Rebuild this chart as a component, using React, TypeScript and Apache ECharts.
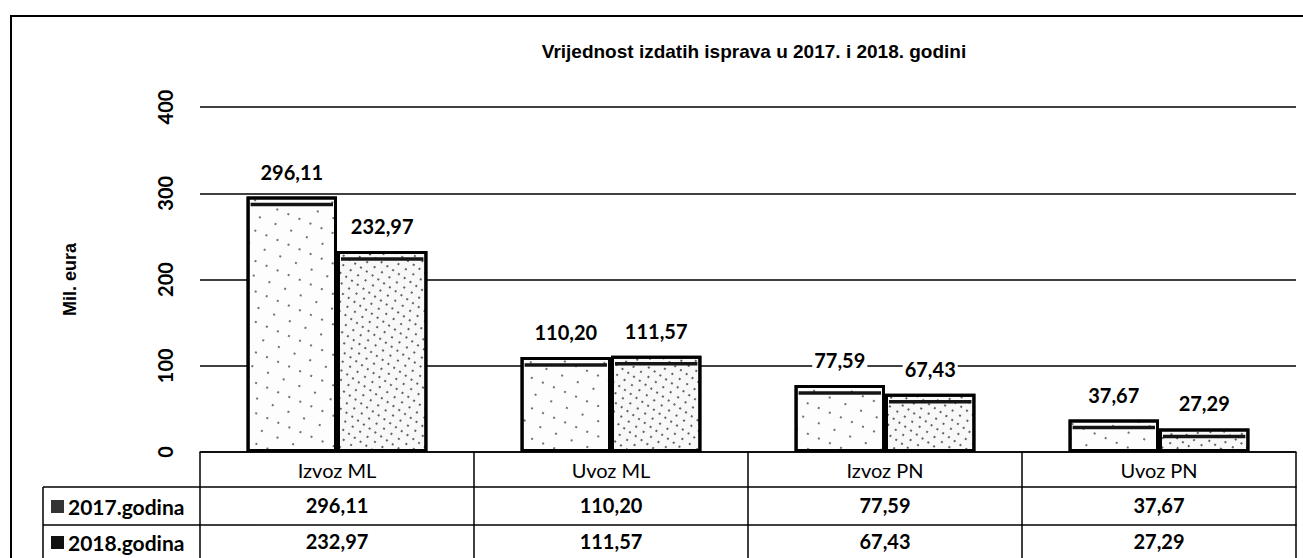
import React, { useEffect, useRef } from "react";
import * as echarts from "echarts";

const categories = ["Izvoz ML", "Uvoz ML", "Izvoz PN", "Uvoz PN"];
const values2017 = [296.11, 110.2, 77.59, 37.67];
const values2018 = [232.97, 111.57, 67.43, 27.29];
const seriesNames = ["2017.godina", "2018.godina"];
const yMin = 0;
const yMax = 400;
const yInterval = 100;
const chartTitle = "Vrijednost izdatih isprava u 2017. i 2018. godini";
const yAxisName = "Mil. eura";

const fmt = (v: number) => v.toFixed(2).replace(".", ",");

const CAT_GAP = 0.34;
const labelFont = "Lato, 'Open Sans', sans-serif";
const arialFont = "'Liberation Sans', Arial, sans-serif";

export default function App() {
  const ref = useRef<HTMLDivElement>(null);

  useEffect(() => {
    if (!ref.current) return;
    const chart = echarts.init(ref.current, undefined, { renderer: "svg" });

    const lineStyle = { color: "#000", width: 1.5 };
    const tableLabel = {
      fontFamily: labelFont,
      fontSize: 20,
      fontWeight: "bold" as const,
      color: "#000",
      interval: 0,
    };

    const topLineData: number[][] = [];
    categories.forEach((_, i) => {
      topLineData.push([i, values2017[i], 0]);
      topLineData.push([i, values2018[i], 1]);
    });

    const barLabel = {
      show: true,
      position: "top" as const,
      distance: 15,
      formatter: (p: any) => fmt(p.value),
      fontFamily: labelFont,
      fontSize: 20,
      fontWeight: "bold" as const,
      color: "#000",
      backgroundColor: "#fff",
      padding: [0, 2, 0, 2],
    };

    chart.setOption({
      animation: false,
      backgroundColor: "#fff",
      title: {
        text: chartTitle,
        left: 749,
        top: 37,
        textAlign: "center",
        textStyle: {
          fontFamily: arialFont,
          fontWeight: "bold",
          fontSize: 19,
          color: "#000",
        },
      },
      grid: { left: 200, right: 7, top: 107, bottom: 106 },
      xAxis: [
        {
          type: "category",
          data: categories,
          position: "bottom",
          axisLine: { show: true, lineStyle },
          axisTick: { show: true, length: 106, alignWithLabel: false, lineStyle },
          axisLabel: { ...tableLabel, fontWeight: "normal", margin: 8 },
          splitLine: { show: false },
        },
        {
          type: "category",
          data: categories,
          position: "bottom",
          offset: 35,
          axisLine: { show: true, lineStyle },
          axisTick: { show: false },
          axisLabel: {
            ...tableLabel,
            margin: 8,
            formatter: (_v: string, i: number) => fmt(values2017[i]),
          },
        },
        {
          type: "category",
          data: categories,
          position: "bottom",
          offset: 73,
          axisLine: { show: true, lineStyle },
          axisTick: { show: false },
          axisLabel: {
            ...tableLabel,
            margin: 6,
            formatter: (_v: string, i: number) => fmt(values2018[i]),
          },
        },
      ],
      yAxis: {
        type: "value",
        min: yMin,
        max: yMax,
        interval: yInterval,
        axisLine: { show: false },
        axisTick: { show: false },
        splitLine: { show: true, lineStyle },
        axisLabel: {
          rotate: 90,
          margin: 25,
          fontFamily: labelFont,
          fontWeight: "bold",
          fontSize: 20,
          color: "#000",
        },
        name: yAxisName,
        nameLocation: "middle",
        nameGap: 121,
        nameRotate: 90,
        nameTextStyle: {
          fontFamily: arialFont,
          fontWeight: "bold",
          fontSize: 18,
          color: "#000",
        },
      },
      series: [
        {
          name: seriesNames[0],
          type: "bar",
          data: values2017,
          barGap: "0%",
          barCategoryGap: `${CAT_GAP * 100}%`,
          itemStyle: {
            color: "#fdfdfd",
            borderColor: "#000",
            borderWidth: 3,
            decal: {
              symbol: "rect",
              symbolSize: 1,
              color: "rgba(0,0,0,0.55)",
              dashArrayX: [[2, 15], [2, 10]],
              dashArrayY: [2, 12],
              rotation: 0.4,
            },
          },
          label: barLabel,
        },
        {
          name: seriesNames[1],
          type: "bar",
          data: values2018,
          itemStyle: {
            color: "#f8f8f8",
            borderColor: "#000",
            borderWidth: 3,
            decal: {
              symbol: "rect",
              symbolSize: 1,
              color: "rgba(0,0,0,0.6)",
              dashArrayX: [[2, 7], [2, 5]],
              dashArrayY: [2, 6],
              rotation: 0.6,
            },
          },
          label: barLabel,
        },
        {
          type: "custom",
          z: 5,
          silent: true,
          data: topLineData,
          encode: { x: 0, y: 1 },
          renderItem: (_params: any, api: any) => {
            const ci = api.value(0);
            const v = api.value(1);
            const k = api.value(2);
            const p = api.coord([ci, v]);
            const band = api.size([1, 0])[0];
            const bw = (band * (1 - CAT_GAP)) / 2;
            const x0 = p[0] - bw + k * bw;
            const y = p[1] + 8;
            return {
              type: "line",
              shape: { x1: x0 + 4, y1: y, x2: x0 + bw - 4, y2: y },
              style: { stroke: "#151515", lineWidth: 3.5 },
            };
          },
        },
      ],
      graphic: [
        { type: "line", shape: { x1: 10, y1: 16, x2: 1303, y2: 16 }, style: { stroke: "#000", lineWidth: 2 } },
        { type: "line", shape: { x1: 11, y1: 16, x2: 11, y2: 558 }, style: { stroke: "#000", lineWidth: 2 } },
        { type: "line", shape: { x1: 43, y1: 487, x2: 200, y2: 487 }, style: { stroke: "#000", lineWidth: 1.5 } },
        { type: "line", shape: { x1: 43, y1: 525, x2: 200, y2: 525 }, style: { stroke: "#000", lineWidth: 1.5 } },
        { type: "line", shape: { x1: 43, y1: 487, x2: 43, y2: 558 }, style: { stroke: "#000", lineWidth: 1.5 } },
        { type: "rect", shape: { x: 51, y: 500, width: 13, height: 13 }, style: { fill: "#333" } },
        { type: "rect", shape: { x: 51, y: 536, width: 13, height: 13 }, style: { fill: "#111" } },
        {
          type: "text",
          x: 68,
          y: 506,
          style: {
            text: seriesNames[0],
            fontFamily: labelFont,
            fontSize: 21,
            fontWeight: "bold",
            fill: "#000",
            verticalAlign: "middle",
            align: "left",
          },
        },
        {
          type: "text",
          x: 68,
          y: 542,
          style: {
            text: seriesNames[1],
            fontFamily: labelFont,
            fontSize: 21,
            fontWeight: "bold",
            fill: "#000",
            verticalAlign: "middle",
            align: "left",
          },
        },
      ],
    });

    return () => chart.dispose();
  }, []);

  return (
    <div
      ref={ref}
      style={{ position: "fixed", left: 0, top: 0, width: 1303, height: 558, background: "#fff" }}
    />
  );
}
